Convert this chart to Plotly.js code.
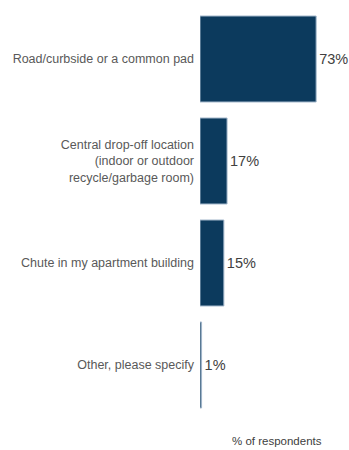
<!DOCTYPE html>
<html>
<head>
<meta charset="utf-8">
<script src="https://cdn.plot.ly/plotly-3.0.1.min.js"></script>
<style>html,body{margin:0;padding:0;background:#fff;}#chart{width:349px;height:450px;}</style>
</head>
<body>
<div id="chart"></div>
<script>
var categories = [
  "Road/curbside or a common pad",
  "Central drop-off location<br>(indoor or outdoor<br>recycle/garbage room)",
  "Chute in my apartment building",
  "Other, please specify"
];
var values = [73, 17, 15, 1];
var valueLabels = ["73%", "17%", "15%", "1%"];

var trace = {
  type: "bar",
  orientation: "h",
  x: values,
  y: categories,
  text: valueLabels,
  textposition: "outside",
  cliponaxis: false,
  textfont: {family: "Liberation Sans, Arial, sans-serif", size: 14.5, color: "#404040"},
  marker: {color: "#0c3a5d", line: {color: "#a3b7cb", width: 1}},
  hoverinfo: "none"
};

var layout = {
  width: 349,
  height: 450,
  margin: {l: 200, r: 9, t: 8, b: 34},
  paper_bgcolor: "#ffffff",
  plot_bgcolor: "#ffffff",
  showlegend: false,
  bargap: 0.157,
  font: {family: "Liberation Sans, Arial, sans-serif", color: "#595959"},
  xaxis: {
    range: [0, 88],
    showgrid: false,
    zeroline: false,
    showline: false,
    showticklabels: false,
    ticks: "",
    fixedrange: true
  },
  yaxis: {
    autorange: "reversed",
    showgrid: false,
    zeroline: false,
    showline: false,
    ticks: "",
    ticklabelstandoff: 5,
    tickfont: {family: "Liberation Sans, Arial, sans-serif", size: 12.5, color: "#595959"},
    fixedrange: true
  },
  annotations: [{
    text: "% of respondents",
    xref: "paper", yref: "paper",
    x: (276.5 - 200) / (349 - 200 - 9), xanchor: "center",
    y: -(441 - 416) / (450 - 8 - 34), yanchor: "middle",
    showarrow: false,
    font: {family: "Liberation Sans, Arial, sans-serif", size: 11.5, color: "#404040"}
  }]
};

Plotly.newPlot("chart", [trace], layout, {displayModeBar: false, staticPlot: true});
</script>
</body>
</html>
